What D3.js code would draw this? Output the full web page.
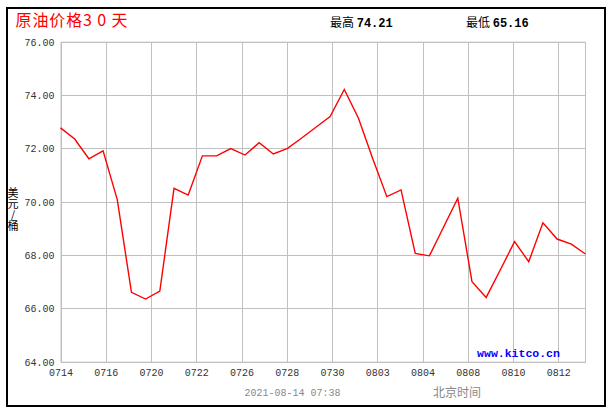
<!DOCTYPE html>
<html>
<head>
<meta charset="utf-8">
<script src="https://cdn.jsdelivr.net/npm/d3@7"></script>
<style>
  html, body { margin: 0; padding: 0; background: #ffffff; }
  svg { display: block; }
</style>
</head>
<body>
<svg id="chart" width="611" height="413"></svg>
<script>
// ---- data ----
const titleText = "原油价格3 0 天";
const highLabel = "最高";
const highValue = "74.21";
const lowLabel = "最低";
const lowValue = "65.16";
const unitLabel = "美元/桶";
const dateText = "2021-08-14 07:38";
const zoneText = "北京时间";
const siteText = "www.kitco.cn";

const xTickLabels = ["0714","0716","0720","0722","0726","0728","0730","0803","0804","0808","0810","0812"];
const yTickValues = [64, 66, 68, 70, 72, 74, 76];

const prices = [
  72.77, 72.35, 71.61, 71.91, 70.08, 66.60, 66.35, 66.65, 70.50, 70.25,
  71.72, 71.72, 71.99, 71.75, 72.21, 71.79, 72.00, 72.39, 72.79, 73.19,
  74.21, 73.13, 71.62, 70.19, 70.44, 68.06, 67.97, 69.05, 70.13, 67.00,
  66.41, 67.45, 68.50, 67.75, 69.21, 68.60, 68.41, 68.04
];

// ---- layout ----
const svg = d3.select("#chart");
const pLeft = 60.5, pRight = 585.5, pTop = 41.7, pBottom = 361.7;
const gridCount = 11.6;

const y = d3.scaleLinear().domain([64, 76]).range([pBottom, pTop]);
const xGrid = d3.scaleLinear().domain([0, gridCount]).range([pLeft, pRight]);
const xData = d3.scaleLinear().domain([0, prices.length - 1]).range([pLeft, pRight]);

const grey = "#c0c0c0";
const mono = "'Liberation Mono', 'DejaVu Sans Mono', monospace";
const cjk = "'Noto Sans CJK SC', 'Noto Sans', sans-serif";

// outer border
svg.append("rect")
  .attr("x", 7).attr("y", 8).attr("width", 598).attr("height", 398)
  .attr("fill", "none").attr("stroke", "#000").attr("stroke-width", 2);

// horizontal grid lines via axis
const yAxis = d3.axisLeft(y).tickValues(yTickValues).tickSize(-(pRight - pLeft)).tickFormat(d => d3.format(".2f")(d));
const gy = svg.append("g").attr("transform", `translate(${pLeft},0)`).call(yAxis);
gy.select(".domain").attr("stroke", grey);
gy.selectAll(".tick line").attr("stroke", grey).attr("shape-rendering", "crispEdges");
gy.selectAll(".tick text")
  .attr("x", -6).attr("dy", "0.35em")
  .attr("fill", "#333").style("font-family", mono).style("font-size", "10px");

// vertical grid lines via axis
const xAxis = d3.axisBottom(xGrid)
  .tickValues(d3.range(xTickLabels.length))
  .tickSize(-(pBottom - pTop))
  .tickFormat(i => xTickLabels[i]);
const gx = svg.append("g").attr("transform", `translate(0,${pBottom})`).call(xAxis);
gx.select(".domain").remove();
gx.selectAll(".tick line").attr("stroke", grey).attr("shape-rendering", "crispEdges");
gx.selectAll(".tick text")
  .attr("y", 7).attr("dy", "0.71em")
  .attr("fill", "#333").style("font-family", mono).style("font-size", "10px");

// right frame line
svg.append("line")
  .attr("x1", pRight).attr("x2", pRight).attr("y1", pTop).attr("y2", pBottom)
  .attr("stroke", grey).attr("shape-rendering", "crispEdges");

// site watermark
svg.append("text")
  .attr("x", 518.5).attr("y", 356.5).attr("text-anchor", "middle")
  .attr("fill", "#0000ff").style("font-family", mono).style("font-size", "11.5px").style("font-weight", "bold")
  .text(siteText);

// price line
const line = d3.line().x((d, i) => xData(i)).y(d => y(d));
svg.append("path")
  .datum(prices)
  .attr("d", line)
  .attr("fill", "none")
  .attr("stroke", "#ff0000")
  .attr("stroke-width", 1.4);

// title
svg.append("text")
  .attr("x", 15.5).attr("y", 26)
  .attr("fill", "#ff0000")
  .attr("textLength", 112).attr("lengthAdjust", "spacing")
  .style("font-family", cjk).style("font-size", "16px")
  .text(titleText);

// high / low
function stat(x, label, value) {
  const t = svg.append("text").attr("x", x).attr("y", 27).attr("fill", "#000");
  t.append("tspan").style("font-family", cjk).style("font-size", "12px").text(label + " ");
  t.append("tspan").style("font-family", mono).style("font-size", "12px").style("font-weight", "bold").text(value);
}
stat(330, highLabel, highValue);
stat(466, lowLabel, lowValue);

// unit label (vertical, one text element)
svg.append("text")
  .attr("x", 13).attr("y", 187)
  .attr("fill", "#000")
  .style("writing-mode", "vertical-rl")
  .style("text-orientation", "upright")
  .style("font-family", cjk).style("font-size", "11px")
  .text(unitLabel);

// footer
svg.append("text")
  .attr("x", 292.5).attr("y", 396)
  .attr("text-anchor", "middle").attr("fill", "#888")
  .style("font-family", mono).style("font-size", "10px")
  .text(dateText);
svg.append("text")
  .attr("x", 457).attr("y", 397)
  .attr("text-anchor", "middle").attr("fill", "#888")
  .style("font-family", cjk).style("font-size", "12px")
  .text(zoneText);
</script>
</body>
</html>
